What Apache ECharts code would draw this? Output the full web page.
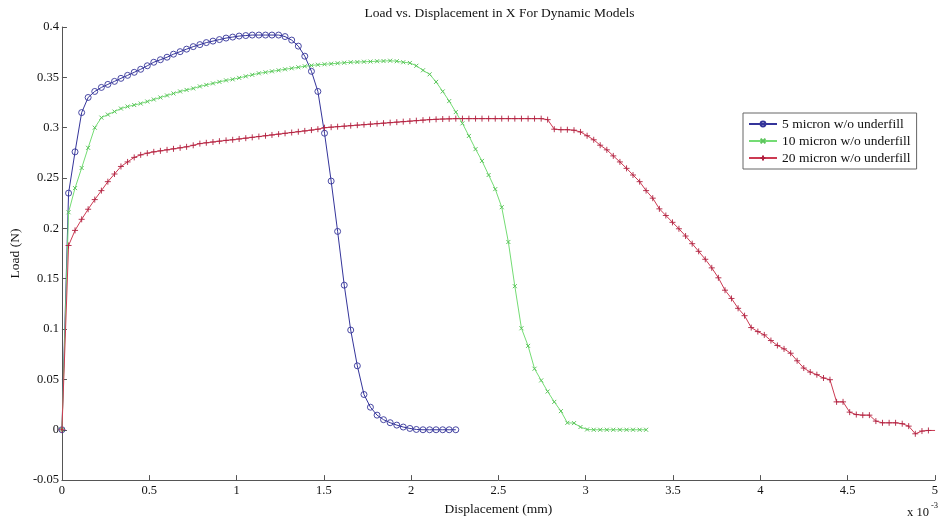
<!DOCTYPE html>
<html>
<head>
<meta charset="utf-8">
<script src="https://cdn.jsdelivr.net/npm/echarts@6/dist/echarts.min.js"></script>
<style>
  html, body { margin: 0; padding: 0; background: #fff; }
  #chart { width: 941px; height: 521px; }
</style>
</head>
<body>
<div id="chart"></div>
<script>
// Displacement samples (x 10^-3 mm), shared by all three runs
const displacement = [
  0, 0.038, 0.075, 0.113, 0.150, 0.188, 0.226, 0.263, 0.301, 0.338,
  0.376, 0.414, 0.451, 0.489, 0.526, 0.564, 0.602, 0.639, 0.677, 0.714,
  0.752, 0.790, 0.827, 0.865, 0.902, 0.940, 0.978, 1.015, 1.053, 1.090,
  1.128, 1.166, 1.203, 1.241, 1.278, 1.316, 1.354, 1.391, 1.429, 1.466,
  1.504, 1.542, 1.579, 1.617, 1.654, 1.692, 1.730, 1.767, 1.805, 1.842,
  1.880, 1.918, 1.955, 1.993, 2.030, 2.068, 2.106, 2.143, 2.181, 2.218,
  2.256, 2.294, 2.331, 2.369, 2.406, 2.444, 2.482, 2.519, 2.557, 2.594,
  2.632, 2.670, 2.707, 2.745, 2.782, 2.820, 2.858, 2.895, 2.933, 2.970,
  3.008, 3.046, 3.083, 3.121, 3.158, 3.196, 3.234, 3.271, 3.309, 3.346,
  3.384, 3.422, 3.459, 3.497, 3.534, 3.572, 3.610, 3.647, 3.685, 3.722,
  3.760, 3.798, 3.835, 3.873, 3.910, 3.948, 3.986, 4.023, 4.061, 4.098,
  4.136, 4.174, 4.211, 4.249, 4.286, 4.324, 4.362, 4.399, 4.437, 4.474,
  4.512, 4.550, 4.587, 4.625, 4.662, 4.700, 4.738, 4.775, 4.813, 4.850,
  4.888, 4.926, 4.963, 5.001
];

// Load (N), 5 micron w/o underfill
const load5 = [
  0, 0.235, 0.276, 0.315, 0.330, 0.336, 0.340, 0.343, 0.346, 0.349,
  0.352, 0.355, 0.358, 0.3615, 0.365, 0.3675, 0.370, 0.373, 0.3755, 0.378,
  0.3805, 0.3825, 0.3845, 0.386, 0.3875, 0.389, 0.390, 0.391, 0.3915, 0.392,
  0.392, 0.392, 0.392, 0.392, 0.3905, 0.387, 0.381, 0.371, 0.356, 0.336,
  0.2945, 0.247, 0.197, 0.1436, 0.099, 0.0635, 0.035, 0.0224, 0.0145, 0.010,
  0.007, 0.0046, 0.0027, 0.0013, 0.0003, 0, 0, 0, 0, 0,
  0
];

// Load (N), 10 micron w/o underfill
const load10 = [
  0, 0.216, 0.240, 0.260, 0.280, 0.300, 0.310, 0.313, 0.316, 0.319,
  0.321, 0.3225, 0.324, 0.326, 0.328, 0.330, 0.332, 0.334, 0.336, 0.3375,
  0.339, 0.341, 0.3425, 0.344, 0.3455, 0.347, 0.348, 0.3495, 0.351, 0.3525,
  0.354, 0.355, 0.356, 0.357, 0.358, 0.359, 0.360, 0.361, 0.3618, 0.3625,
  0.363, 0.3635, 0.364, 0.3645, 0.365, 0.3652, 0.3655, 0.3657, 0.366, 0.3662,
  0.3665, 0.366, 0.365, 0.3643, 0.3615, 0.357, 0.353, 0.3455, 0.336, 0.3264,
  0.3155, 0.3043, 0.2918, 0.2787, 0.267, 0.253, 0.239, 0.221, 0.1865, 0.1426,
  0.1008, 0.0833, 0.0606, 0.049, 0.038, 0.0277, 0.0185, 0.0069, 0.0066, 0.0027,
  0.0003, 0, 0, 0, 0, 0, 0, 0, 0, 0
];

// Load (N), 20 micron w/o underfill
const load20 = [
  0, 0.183, 0.198, 0.209, 0.219, 0.2286, 0.2375, 0.2464, 0.254, 0.2615,
  0.266, 0.2705, 0.273, 0.2747, 0.276, 0.277, 0.278, 0.279, 0.280, 0.281,
  0.2825, 0.2842, 0.285, 0.2858, 0.2866, 0.2874, 0.288, 0.2888, 0.2896, 0.2904,
  0.2912, 0.2920, 0.2928, 0.2936, 0.2944, 0.2952, 0.2960, 0.2968, 0.2976, 0.2985,
  0.300, 0.3005, 0.301, 0.3015, 0.302, 0.3025, 0.303, 0.3035, 0.304, 0.3045,
  0.305, 0.3055, 0.306, 0.3065, 0.307, 0.3075, 0.308, 0.3083, 0.3086, 0.3088,
  0.309, 0.309, 0.309, 0.309, 0.309, 0.309, 0.309, 0.309, 0.309, 0.309,
  0.309, 0.309, 0.309, 0.309, 0.308, 0.2985, 0.298, 0.298, 0.2975, 0.2958,
  0.292, 0.288, 0.2826, 0.278, 0.272, 0.266, 0.2596, 0.253, 0.2464, 0.2375,
  0.230, 0.2194, 0.2128, 0.206, 0.1996, 0.1924, 0.1848, 0.1772, 0.1693, 0.1608,
  0.1509, 0.1386, 0.1304, 0.1206, 0.1133, 0.1015, 0.0975, 0.0942, 0.0886, 0.0837,
  0.0803, 0.076, 0.0685, 0.0613, 0.0573, 0.0547, 0.0514, 0.0497, 0.0277, 0.0277,
  0.0175, 0.0151, 0.0145, 0.0145, 0.0086, 0.0069, 0.0069, 0.0069, 0.006, 0.0036,
  -0.004, -0.0013, -0.0007, -0.0007
];

const seriesNames = ['5 micron w/o underfill', '10 micron w/o underfill', '20 micron w/o underfill'];
const xTickLabels = ['0', '0.5', '1', '1.5', '2', '2.5', '3', '3.5', '4', '4.5', '5'];

const FONT = '"Liberation Serif", "Times New Roman", serif';
const TEXT = '#111';

function pairs(ys) {
  return ys.map((y, i) => [displacement[i], y]);
}

const chart = echarts.init(document.getElementById('chart'), null, { renderer: 'canvas' });

const axisColor = '#555';
const blue = '#34349a';
const green = '#74dc74';
const greenMark = '#5cc45c';
const red = '#cc3a52';
const redMark = '#b02040';

chart.setOption({
  animation: false,
  backgroundColor: '#fff',
  textStyle: { fontFamily: FONT },
  grid: { left: 60, right: 2, top: 27, bottom: 38, containLabel: false },
  graphic: [
    {
      type: 'text', x: 499.5, y: 13,
      style: { text: 'Load vs. Displacement in X For Dynamic Models', font: '13.5px ' + FONT,
               fill: TEXT, align: 'center', verticalAlign: 'middle' }
    },
    {
      type: 'text', x: 907, y: 513,
      style: { text: 'x 10', font: '12.5px ' + FONT, fill: TEXT, align: 'left', verticalAlign: 'middle' }
    },
    {
      type: 'text', x: 931, y: 506,
      style: { text: '-3', font: '8.5px ' + FONT, fill: TEXT, align: 'left', verticalAlign: 'middle' }
    }
  ],
  legend: {
    orient: 'vertical',
    left: 743, top: 113,
    padding: [3, 6, 3, 5],
    itemGap: 1,
    itemWidth: 28, itemHeight: 6,
    borderColor: '#666', borderWidth: 1, borderRadius: 0,
    backgroundColor: '#fff',
    textStyle: { fontFamily: FONT, fontSize: 13.5, color: TEXT, lineHeight: 16 },
    data: seriesNames
  },
  xAxis: {
    type: 'value',
    min: 0, max: 5, interval: 0.5,
    name: 'Displacement (mm)',
    nameLocation: 'middle', nameGap: 18,
    nameTextStyle: { fontFamily: FONT, fontSize: 13.5, color: TEXT },
    axisLine: { show: true, onZero: false, lineStyle: { color: axisColor, width: 1 } },
    axisTick: { show: true, inside: true, length: 5, lineStyle: { color: axisColor } },
    axisLabel: {
      fontFamily: FONT, fontSize: 12.5, color: TEXT, margin: 4,
      formatter: (v) => { const i = Math.round(v / 0.5); return xTickLabels[i] !== undefined ? xTickLabels[i] : ''; }
    },
    splitLine: { show: false }
  },
  yAxis: {
    type: 'value',
    min: -0.05, max: 0.4, interval: 0.05,
    name: 'Load (N)',
    nameLocation: 'middle', nameGap: 35,
    nameTextStyle: { fontFamily: FONT, fontSize: 13.5, color: TEXT },
    axisLine: { show: true, onZero: false, lineStyle: { color: axisColor, width: 1 } },
    axisTick: { show: true, inside: true, length: 5, lineStyle: { color: axisColor } },
    axisLabel: {
      fontFamily: FONT, fontSize: 12.5, color: TEXT, margin: 3,
      formatter: (v) => String(Math.round(v * 100) / 100)
    },
    splitLine: { show: false }
  },
  series: [
    {
      name: seriesNames[0], type: 'line', data: pairs(load5),
      symbol: 'circle', symbolSize: 6, showAllSymbol: true,
      lineStyle: { color: blue, width: 1 },
      itemStyle: { color: 'rgba(255,255,255,0)', borderColor: blue, borderWidth: 0.9 },
      z: 2
    },
    {
      name: seriesNames[1], type: 'line', data: pairs(load10),
      symbol: 'path://M0,0L10,10M10,0L0,10', symbolSize: 4, showAllSymbol: true,
      lineStyle: { color: green, width: 1 },
      itemStyle: { color: 'none', borderColor: greenMark, borderWidth: 1 },
      z: 3
    },
    {
      name: seriesNames[2], type: 'line', data: pairs(load20),
      symbol: 'path://M5,0L5,10M0,5L10,5', symbolSize: 6, showAllSymbol: true,
      lineStyle: { color: red, width: 1 },
      itemStyle: { color: 'none', borderColor: redMark, borderWidth: 0.9 },
      z: 4
    }
  ]
});
</script>
</body>
</html>
